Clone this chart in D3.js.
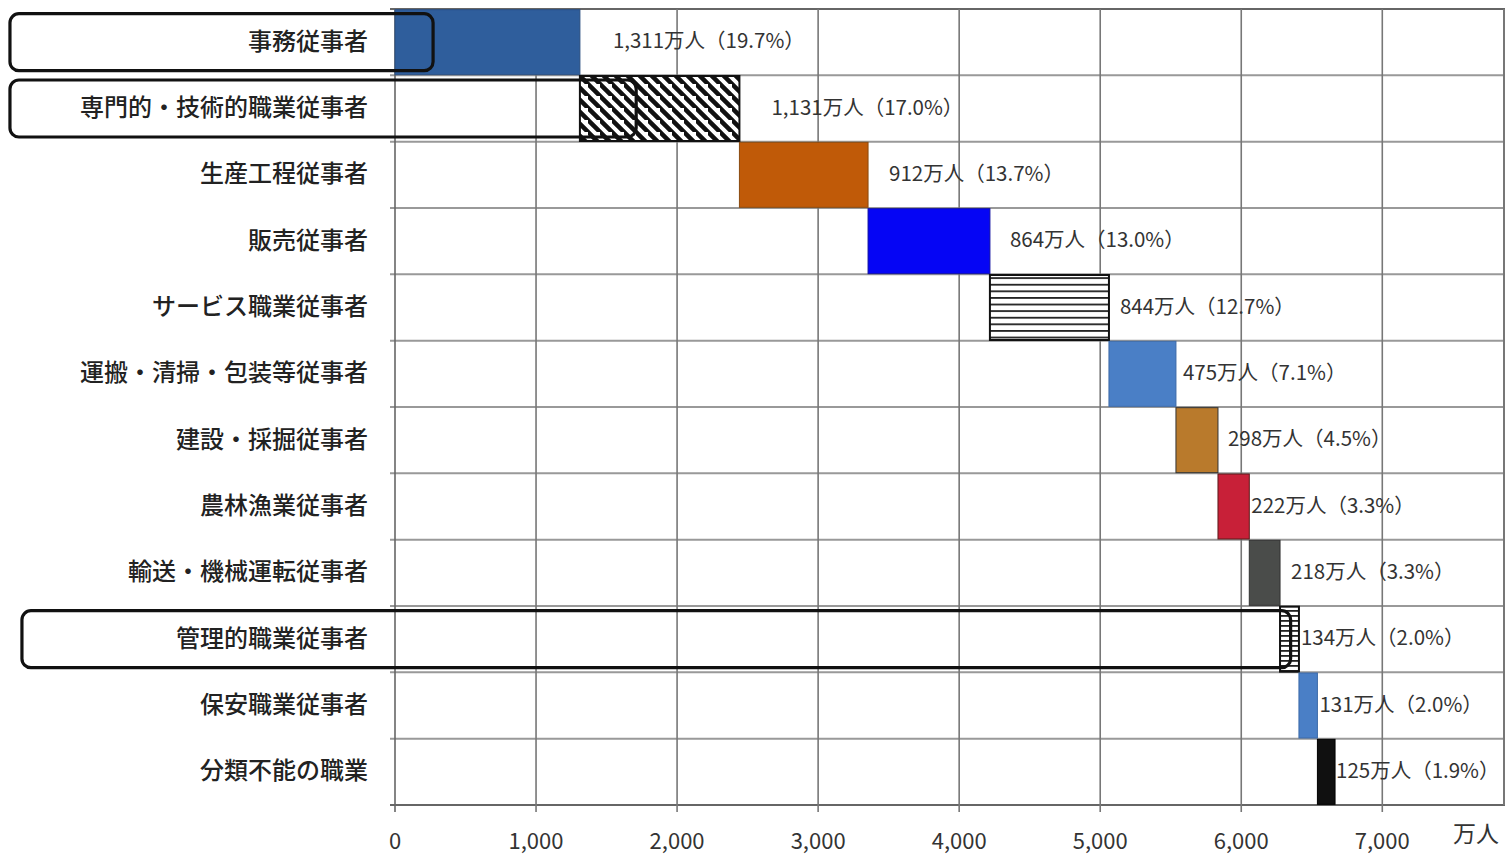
<!DOCTYPE html>
<html>
<head>
<meta charset="utf-8">
<script src="https://cdn.jsdelivr.net/npm/d3@7"></script>
<style>
  body { margin: 0; background: #fff; }
  svg { display: block; font-family: "Noto Sans CJK JP", "Noto Sans", sans-serif; }
</style>
</head>
<body>
<div id="chart"></div>
<script>
// 職業別就業者数（万人）と構成比
const categories = [
  "事務従事者", "専門的・技術的職業従事者", "生産工程従事者", "販売従事者",
  "サービス職業従事者", "運搬・清掃・包装等従事者", "建設・採掘従事者", "農林漁業従事者",
  "輸送・機械運転従事者", "管理的職業従事者", "保安職業従事者", "分類不能の職業"
];
const values = [1311, 1131, 912, 864, 844, 475, 298, 222, 218, 134, 131, 125];
const shares = [19.7, 17.0, 13.7, 13.0, 12.7, 7.1, 4.5, 3.3, 3.3, 2.0, 2.0, 1.9];
const xTicks = [0, 1000, 2000, 3000, 4000, 5000, 6000, 7000];
const xMax = 7870;
const unitLabel = "万人";

// highlighted rows (rounded boxes) and the value where each box ends
const highlightRows = ["事務従事者", "専門的・技術的職業従事者", "管理的職業従事者"];
const highlightEnds = [270, 1710, 6350];
const highlightStarts = [-2730, -2730, -2645];

const fills = ["#2f5e9c", "url(#diag)", "#c05a08", "#0505f5", "url(#hstripe)", "#4a7fc6",
  "#b97a2c", "#c82038", "#4a4c4a", "url(#hstripe2)", "#4a7fc6", "#101010"];
const strokes = ["#2a4f80", "#111", "#8a4a10", "#1010a0", "#111", "#3d6aa8",
  "#333", "#5a1a1a", "#333", "#111", "#3d6aa8", "#000"];
const labelDx = [33, 32, 21, 20, 11, 7, 10, 2, 11, 2, 2, 1];

const width = 1507, height = 857;
const margin = { top: 9, left: 395, bottom: 52, right: 2 };

const starts = [0, ...d3.cumsum(values)].slice(0, values.length);

const x = d3.scaleLinear()
    .domain([0, xMax])
    .range([margin.left, width - margin.right]);

const y = d3.scaleBand()
    .domain(categories)
    .range([margin.top, height - margin.bottom])
    .paddingInner(0.02)
    .paddingOuter(0.01);

const svg = d3.select("#chart")
    .append("svg")
    .attr("width", width)
    .attr("height", height);

const defs = svg.append("defs");
const diag = defs.append("pattern")
    .attr("id", "diag")
    .attr("patternUnits", "userSpaceOnUse")
    .attr("width", 12).attr("height", 12);
diag.append("rect").attr("width", 12).attr("height", 12).attr("fill", "#fff");
diag.append("path")
    .attr("d", "M-3,-3 L15,15 M-9,3 L3,15 M9,-9 L21,3")
    .attr("stroke", "#111").attr("stroke-width", 4.5);

function stripes(id, period, thick) {
  const p = defs.append("pattern")
      .attr("id", id)
      .attr("patternUnits", "userSpaceOnUse")
      .attr("width", 10).attr("height", period);
  p.append("rect").attr("width", 10).attr("height", period).attr("fill", "#fff");
  p.append("rect").attr("y", 0).attr("width", 10).attr("height", thick).attr("fill", "#222");
}
stripes("hstripe", 6.6, 1.8);
stripes("hstripe2", 5, 1.8);

const plotTop = margin.top, plotBottom = height - margin.bottom;
const rowEdges = d3.range(categories.length + 1).map(i => margin.top + i * (plotBottom - plotTop) / categories.length);

// grid
const grid = svg.append("g");
grid.selectAll("line.h")
    .data(rowEdges)
    .enter().append("line")
    .attr("x1", margin.left - 5)
    .attr("x2", width - margin.right)
    .attr("y1", d => d).attr("y2", d => d)
    .attr("stroke", d => (d === plotTop || d === plotBottom) ? "#666" : "#999")
    .attr("stroke-width", 2);

grid.selectAll("line.v")
    .data(xTicks)
    .enter().append("line")
    .attr("x1", d => x(d)).attr("x2", d => x(d))
    .attr("y1", plotTop)
    .attr("y2", plotBottom + 7)
    .attr("stroke", d => d === 0 ? "#666" : "#777")
    .attr("stroke-width", 1.6);

grid.append("line")
    .attr("x1", width - margin.right - 1).attr("x2", width - margin.right - 1)
    .attr("y1", plotTop).attr("y2", plotBottom)
    .attr("stroke", "#777").attr("stroke-width", 2);

// bars
svg.append("g")
    .selectAll("rect")
    .data(categories)
    .enter().append("rect")
    .attr("x", (d, i) => x(starts[i]))
    .attr("y", d => y(d))
    .attr("width", (d, i) => x(starts[i] + values[i]) - x(starts[i]))
    .attr("height", y.bandwidth())
    .attr("fill", (d, i) => fills[i])
    .attr("stroke", (d, i) => strokes[i])
    .attr("stroke-width", (d, i) => fills[i].startsWith("url") ? 2 : 1);

// value labels
const fmt = d3.format(",");
svg.append("g")
    .selectAll("text")
    .data(categories)
    .enter().append("text")
    .attr("x", (d, i) => x(starts[i] + values[i]) + labelDx[i])
    .attr("y", d => y(d) + y.bandwidth() / 2 - 3)
    .attr("dominant-baseline", "central")
    .attr("font-size", 20.5)
    .attr("fill", "#333")
    .text((d, i) => `${fmt(values[i])}万人（${shares[i].toFixed(1)}%）`);

// category axis labels
svg.append("g")
    .selectAll("text")
    .data(categories)
    .enter().append("text")
    .attr("x", margin.left - 27)
    .attr("y", d => y(d) + y.bandwidth() / 2 - 3)
    .attr("dominant-baseline", "central")
    .attr("text-anchor", "end")
    .attr("font-size", 24)
    .attr("font-weight", 500)
    .attr("fill", "#222")
    .text(d => d);

// x tick labels
svg.append("g")
    .selectAll("text")
    .data(xTicks)
    .enter().append("text")
    .attr("x", d => x(d))
    .attr("y", plotBottom + 34)
    .attr("dominant-baseline", "central")
    .attr("text-anchor", "middle")
    .attr("font-size", 22)
    .attr("fill", "#333")
    .text(d => fmt(d));

svg.append("text")
    .attr("x", width - 8)
    .attr("y", plotBottom + 27)
    .attr("dominant-baseline", "central")
    .attr("text-anchor", "end")
    .attr("font-size", 23)
    .attr("fill", "#333")
    .text(unitLabel);

// highlight boxes
svg.append("g")
    .selectAll("rect")
    .data(highlightRows)
    .enter().append("rect")
    .attr("x", (d, i) => x(highlightStarts[i]))
    .attr("y", d => y(d) + 4)
    .attr("width", (d, i) => x(highlightEnds[i]) - x(highlightStarts[i]))
    .attr("height", y.bandwidth() - 8)
    .attr("rx", 9)
    .attr("fill", "none")
    .attr("stroke", "#111")
    .attr("stroke-width", 3.2);
</script>
</body>
</html>
